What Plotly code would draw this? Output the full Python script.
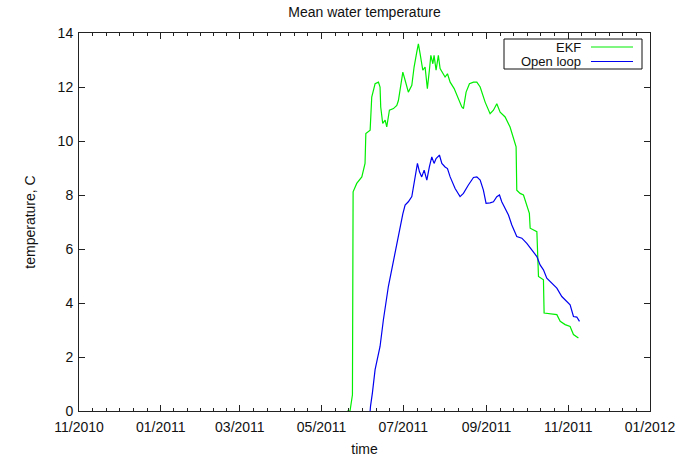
import pandas as pd
import plotly.graph_objects as go

# ---- data ----
base_date = "2010-11-01"
# days since base_date, mean water temperature (C)
ekf_days = [200.0, 202.2, 204.0, 204.5, 207.2, 211.0, 213.4, 214.0, 217.2, 218.4, 220.9, 223.4,
            224.6, 225.1, 226.6, 228.4, 229.6, 231.6, 234.6, 237.1, 238.3, 240.1, 241.6, 243.3,
            245.7, 248.3, 250.0, 252.0, 253.2, 254.5, 256.5, 258.2, 259.9, 261.4, 262.5, 264.0,
            264.9, 266.4, 268.1, 269.4, 271.4, 273.1, 274.9, 276.9, 279.9, 283.1, 285.6, 286.8,
            288.8, 291.3, 294.3, 296.8, 299.3, 303.0, 306.7, 309.2, 311.7, 314.2, 317.9, 321.6,
            324.6, 326.1, 326.6, 329.1, 331.6, 334.1, 336.0, 336.6, 341.6, 342.8, 346.5, 347.0,
            356.5, 359.0, 362.7, 366.4, 368.9, 372.6]
ekf_temp = [0.0, 0.0, 0.6, 8.12, 8.43, 8.67, 9.17, 10.28, 10.4, 11.63, 12.12, 12.18,
            12.0, 11.26, 10.65, 10.77, 10.52, 11.14, 11.2, 11.32, 11.5, 12.0, 12.55, 12.25,
            11.81, 12.06, 12.74, 13.29, 13.6, 13.23, 12.62, 12.74, 11.94, 12.62, 13.17, 12.86,
            13.17, 12.62, 13.17, 12.68, 12.49, 12.37, 12.49, 12.18, 11.94, 11.57, 11.26, 11.2,
            11.81, 12.12, 12.18, 12.18, 12.0, 11.44, 11.01, 11.14, 11.38, 11.07, 10.89, 10.52,
            10.03, 9.78, 8.18, 8.06, 8.0, 7.63, 7.32, 6.77, 6.64, 4.98, 4.86, 3.63,
            3.57, 3.32, 3.2, 3.13, 2.83, 2.7]

open_days = [217.2, 217.5, 218.9, 220.9, 224.6, 227.1, 230.8, 234.6, 238.3, 241.6, 243.3, 245.7,
             248.3, 250.0, 252.5, 254.0, 255.7, 257.5, 259.5, 261.4, 263.2, 264.9, 266.4, 268.9,
             270.7, 273.1, 274.9, 276.9, 280.6, 284.3, 286.8, 290.5, 294.3, 296.8, 299.3, 301.7,
             303.7, 306.7, 309.2, 311.7, 313.7, 315.4, 317.9, 320.4, 322.9, 326.6, 330.4, 334.1,
             337.8, 341.6, 344.0, 346.5, 349.0, 352.8, 356.5, 360.2, 364.0, 366.4, 368.9, 371.4,
             373.4]
open_temp = [0.0, 0.18, 0.67, 1.53, 2.39, 3.38, 4.61, 5.6, 6.58, 7.3, 7.63, 7.75,
             7.94, 8.43, 9.17, 8.86, 8.67, 8.92, 8.55, 9.04, 9.41, 9.17, 9.35, 9.48,
             9.17, 9.04, 8.98, 8.67, 8.24, 7.94, 8.06, 8.37, 8.65, 8.67, 8.55, 8.18,
             7.69, 7.71, 7.75, 7.94, 8.0, 7.75, 7.51, 7.26, 6.89, 6.46, 6.4, 6.21,
             5.97, 5.72, 5.41, 5.23, 4.92, 4.74, 4.55, 4.24, 4.06, 3.93, 3.5, 3.48,
             3.32]

x_ticks = ["2010-11-01", "2011-01-01", "2011-03-01", "2011-05-01", "2011-07-01",
           "2011-09-01", "2011-11-01", "2012-01-01"]
y_ticks = [0, 2, 4, 6, 8, 10, 12, 14]

series_names = ["EKF", "Open loop"]
series_colors = ["#00ee00", "#0000f0"]

# ---- build ----
base = pd.Timestamp(base_date)
ekf_x = base + pd.to_timedelta(ekf_days, unit="D")
open_x = base + pd.to_timedelta(open_days, unit="D")

major = pd.to_datetime(x_ticks)
minor_vals = []
for a, b in zip(major[:-1], major[1:]):
    for k in range(1, 6):
        minor_vals.append(a + (b - a) * k / 6)

FONT = "Liberation Sans, Arial, sans-serif"

fig = go.Figure()
fig.add_trace(go.Scatter(x=ekf_x, y=ekf_temp, mode="lines", name=series_names[0],
                         line=dict(color=series_colors[0], width=1.2), showlegend=False))
fig.add_trace(go.Scatter(x=open_x, y=open_temp, mode="lines", name=series_names[1],
                         line=dict(color=series_colors[1], width=1.2), showlegend=False))

fig.update_layout(
    width=692, height=457,
    margin=dict(l=79, r=42, t=33, b=46),
    paper_bgcolor="white", plot_bgcolor="white",
    font=dict(family=FONT, size=14, color="#111"),
    title=dict(text="Mean water temperature", x=0.5, xref="paper", xanchor="center",
               y=1 - 12 / 457, yref="container", yanchor="middle",
               font=dict(family=FONT, size=14, color="#111")),
)
fig.update_xaxes(
    type="date", range=[major[0], major[-1]],
    tickmode="array", tickvals=major, tickformat="%m/%Y",
    ticks="inside", ticklen=6, tickcolor="#222", tickwidth=1,
    ticklabelstandoff=3,
    minor=dict(tickmode="array", tickvals=minor_vals, ticks="inside", ticklen=3,
               tickcolor="#222", tickwidth=1, showgrid=False),
    showline=True, linecolor="#222", linewidth=1, mirror="ticks",
    showgrid=False, zeroline=False,
    title=dict(text="time", standoff=11, font=dict(size=14)),
    automargin=False,
)
fig.update_yaxes(
    range=[0, 14], tickmode="array", tickvals=y_ticks,
    ticks="inside", ticklen=6, tickcolor="#222", tickwidth=1,
    ticklabelstandoff=2,
    showline=True, linecolor="#222", linewidth=1, mirror="ticks",
    showgrid=False, zeroline=False,
    title=dict(text="temperature, C", standoff=18, font=dict(size=14)),
    automargin=False,
)

# ---- legend (gnuplot style: text right-aligned, sample line to the right) ----
def px_x(p):
    return (p - 79) / 571.0

def px_y(p):
    return (411 - p) / 378.0

fig.add_shape(type="rect", xref="paper", yref="paper",
              x0=px_x(504), x1=px_x(642), y0=px_y(69), y1=px_y(39),
              line=dict(color="#111", width=1), fillcolor="white", layer="above")
for i, (nm, col) in enumerate(zip(series_names, series_colors)):
    yy = px_y(47 + i * 14.5)
    fig.add_annotation(text=nm, xref="paper", yref="paper", x=px_x(583), y=yy,
                       xanchor="right", yanchor="middle", showarrow=False,
                       font=dict(family=FONT, size=13, color="#111"))
    fig.add_shape(type="line", xref="paper", yref="paper",
                  x0=px_x(591), x1=px_x(633), y0=yy, y1=yy,
                  line=dict(color=col, width=1.2), layer="above")

fig.write_html("out.html")
